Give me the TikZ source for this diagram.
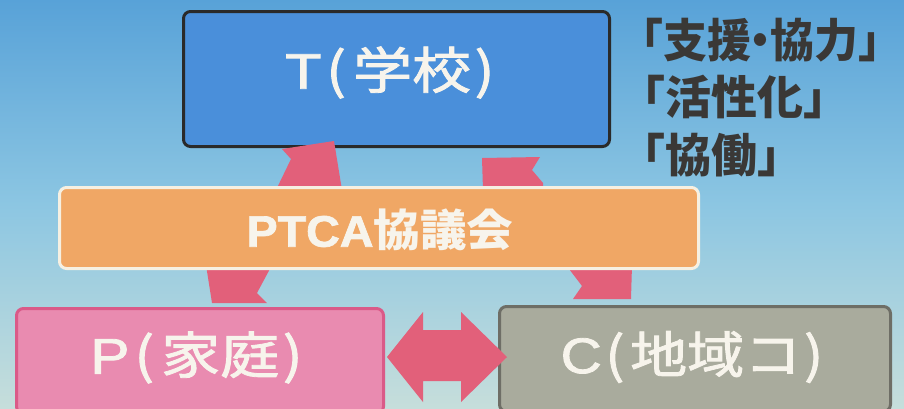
\documentclass[tikz,border=0pt]{standalone}
\usepackage{graphicx}
\usepackage{fontspec}
\setmainfont{Noto Sans CJK JP}
\newfontfamily\medfont[FakeBold=1.6]{Noto Sans CJK JP}
\newfontfamily\latfont[FakeBold=1.6]{Liberation Sans}
\newcommand{\widetxt}[2]{\scalebox{#1}[1]{#2}}
\definecolor{bgtop}{HTML}{58A2D8}
\definecolor{bgmid}{HTML}{8CC6E2}
\definecolor{bgbot}{HTML}{C6DEDB}
\definecolor{tfill}{HTML}{4A8FDA}
\definecolor{tborder}{HTML}{2A2A2A}
\definecolor{ofill}{HTML}{F0A765}
\definecolor{oborder}{HTML}{F6F0E2}
\definecolor{pfill}{HTML}{E98BB0}
\definecolor{pborder}{HTML}{DA5A88}
\definecolor{cfill}{HTML}{A9AB9D}
\definecolor{cborder}{HTML}{6E6E66}
\definecolor{arr}{HTML}{E2607A}
\definecolor{labtext}{HTML}{F7F4EC}
\definecolor{sidetext}{HTML}{3A3836}
\tikzset{
  box/.style={rectangle, rounded corners=7pt, line width=3pt, inner sep=0pt},
  lab/.style={text=labtext, inner sep=0pt, font=\fontsize{50}{50}\medfont},
  ptcalab/.style={text=labtext, inner sep=0pt, font=\fontsize{44}{44}\selectfont\bfseries},
  ribbon/.style={fill=arr, draw=none},
  side/.style={text=sidetext, font=\fontsize{46}{46}\selectfont\bfseries, anchor=base west, inner sep=0pt}
}
\begin{document}
\begin{tikzpicture}[x=1pt,y=-1pt]
\clip (0,0) rectangle (904,408);
\shade[top color=bgtop, bottom color=bgbot, middle color=bgmid] (0,0) rectangle (904,408);
% boxes
\node[box, fill=tfill, draw=tborder, minimum width=426pt, minimum height=135pt] (T) at (396.5,79) {};
\node[box, fill=pfill, draw=pborder, minimum width=367pt, minimum height=105pt] (P) at (200,361) {};
\node[box, fill=cfill, draw=cborder, minimum width=391pt, minimum height=105pt] (C) at (695,359) {};
% labels
\node[lab] (Tlab) at (390,72.5) {\widetxt{1.18}{{\latfont T}\kern0.08em(\kern0.12em 学校\kern0.06em)}};
\node[lab] (Plab) at (196.5,357.5) {\widetxt{1.18}{{\latfont P}\kern0.08em(\kern0.12em 家庭\kern0.06em)}};
\node[lab] (Clab) at (692,357) {\widetxt{1.14}{{\latfont C}\kern0.06em(\kern0.1em 地域コ\kern0.05em)}};
% ribbon arrows
\fill[ribbon] (276,190) -- (291,159) -- (282,149) -- (334,141) -- (342,190) -- cycle;
\fill[ribbon] (482,158) -- (540,157) -- (532,170) -- (543,183) -- (543,190) -- (483,190) -- cycle;
\fill[ribbon] (206,265) -- (272,265) -- (257,293) -- (267,303) -- (212,303) -- cycle;
\fill[ribbon] (566,265) -- (632,265) -- (631,299) -- (573,299) -- (582,286) -- cycle;
\fill[ribbon] (387,357) -- (423,312) -- (423,330) -- (461,330) -- (461,312) -- (507,357)
  -- (461,402) -- (461,381) -- (423,381) -- (423,402) -- cycle;
% PTCA box
\node[box, fill=ofill, draw=oborder, minimum width=639pt, minimum height=81pt] (PTCA) at (379,228) {};
\node[ptcalab] (PTCAlab) at (380,230) {\widetxt{1.06}{{\latfont PTCA}協議会}};
% side text
\node[side] (s1) at (619,57) {\widetxt{0.955}{「支援\kern-0.28em・\kern-0.28em 協力」}};
\node[side] (s2) at (619,114) {「活性化」};
\node[side] (s3) at (619,172) {「協働」};
\end{tikzpicture}
\end{document}
